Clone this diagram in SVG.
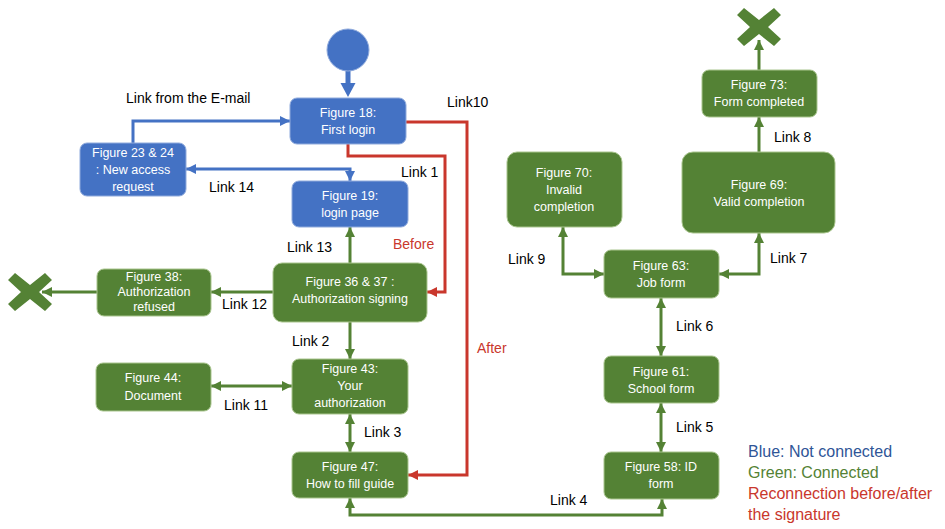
<svg xmlns="http://www.w3.org/2000/svg" width="945" height="529" viewBox="0 0 945 529">
<defs>
<style>
.nb{fill:#4472C4;stroke:#8FAADC;stroke-width:1}
.ng{fill:#548235;stroke:#A9C58E;stroke-width:1}
.nt{font-family:"Liberation Sans",Arial,sans-serif;font-size:12.5px;fill:#ffffff;text-anchor:middle}
.lb{font-family:"Liberation Sans",Arial,sans-serif;font-size:14px;fill:#000000}
.lr{font-family:"Liberation Sans",Arial,sans-serif;font-size:14px;fill:#C9372C}
.lg{font-family:"Liberation Sans",Arial,sans-serif;font-size:16px}
.cb{fill:none;stroke:#4472C4;stroke-width:3}
.cg{fill:none;stroke:#548235;stroke-width:3}
.cr{fill:none;stroke:#C9372C;stroke-width:3}
</style>
<marker id="ab" markerUnits="userSpaceOnUse" markerWidth="11" markerHeight="11" refX="10" refY="5" orient="auto-start-reverse"><path d="M0,0 L10,5 L0,10 z" fill="#4472C4"/></marker>
<marker id="ag" markerUnits="userSpaceOnUse" markerWidth="11" markerHeight="11" refX="10" refY="5" orient="auto-start-reverse"><path d="M0,0 L10,5 L0,10 z" fill="#548235"/></marker>
<marker id="ar" markerUnits="userSpaceOnUse" markerWidth="11" markerHeight="11" refX="10" refY="5" orient="auto-start-reverse"><path d="M0,0 L10,5 L0,10 z" fill="#C9372C"/></marker>
</defs>
<rect width="945" height="529" fill="#ffffff"/>

<g id="connectors">
<path d="M348,71 V84" stroke="#4472C4" stroke-width="5" fill="none"/>
<polygon points="340.5,83 355.5,83 348,97" fill="#4472C4"/>
<path class="cb" d="M133,143 V121 H290" marker-end="url(#ab)"/>
<path class="cb" d="M186,169 H350 V181" marker-start="url(#ab)" marker-end="url(#ab)"/>
<path class="cr" d="M348,144 V156 H445 V292 H427" marker-end="url(#ar)"/>
<path class="cr" d="M406,122 H467 V475 H408" marker-end="url(#ar)"/>
<path class="cg" d="M350,263 V227" marker-end="url(#ag)"/>
<path class="cg" d="M273,292 H211" marker-end="url(#ag)"/>
<path class="cg" d="M97,292 H42" marker-end="url(#ag)"/>
<path class="cg" d="M350,322 V359" marker-end="url(#ag)"/>
<path class="cg" d="M211,386 H292" marker-start="url(#ag)" marker-end="url(#ag)"/>
<path class="cg" d="M350,414 V452" marker-start="url(#ag)" marker-end="url(#ag)"/>
<path class="cg" d="M350,498 V515 H662 V499" marker-start="url(#ag)" marker-end="url(#ag)"/>
<path class="cg" d="M661,403 V452" marker-start="url(#ag)" marker-end="url(#ag)"/>
<path class="cg" d="M661,298 V356" marker-start="url(#ag)" marker-end="url(#ag)"/>
<path class="cg" d="M719,274 H759 V233" marker-start="url(#ag)" marker-end="url(#ag)"/>
<path class="cg" d="M604,274 H563 V227" marker-start="url(#ag)" marker-end="url(#ag)"/>
<path class="cg" d="M759,152 V117" marker-end="url(#ag)"/>
<path class="cg" d="M759,70 V40" marker-end="url(#ag)"/>
</g>

<g id="start"><circle cx="348" cy="50" r="21" class="nb"/></g>

<g id="endLeft"><polygon points="8,280 15,273 30,285 45,273 52,280 39,292 52,304 45,311 30,299 15,311 8,304 21,292" fill="#548235"/></g>
<g id="endTop"><polygon points="737,15 744,8 759,20 774,8 781,15 768,27 781,39 774,46 759,34 744,46 737,39 750,27" fill="#548235"/></g>

<g id="fig18"><rect x="290" y="98" width="116" height="46" rx="7" class="nb"/><text class="nt" x="348" y="117">Figure 18:</text><text class="nt" x="348" y="134">First login</text></g>
<g id="fig23"><rect x="80" y="143" width="106" height="53" rx="7" class="nb"/><text class="nt" x="133" y="157">Figure 23 &amp; 24</text><text class="nt" x="133" y="174">: New access</text><text class="nt" x="133" y="191">request</text></g>
<g id="fig19"><rect x="292" y="181" width="116" height="46" rx="7" class="nb"/><text class="nt" x="350" y="200">Figure 19:</text><text class="nt" x="350" y="217">login page</text></g>
<g id="fig36"><rect x="273" y="263" width="154" height="59" rx="9" class="ng"/><text class="nt" x="350" y="286">Figure 36 &amp; 37 :</text><text class="nt" x="350" y="303">Authorization signing</text></g>
<g id="fig38"><rect x="97" y="269" width="114" height="47" rx="7" class="ng"/><text class="nt" x="154" y="281">Figure 38:</text><text class="nt" x="154" y="296">Authorization</text><text class="nt" x="154" y="311">refused</text></g>
<g id="fig43"><rect x="292" y="359" width="116" height="55" rx="7" class="ng"/><text class="nt" x="350" y="373">Figure 43:</text><text class="nt" x="350" y="390">Your</text><text class="nt" x="350" y="407">authorization</text></g>
<g id="fig44"><rect x="96" y="363" width="115" height="48" rx="7" class="ng"/><text class="nt" x="153" y="382">Figure 44:</text><text class="nt" x="153" y="400">Document</text></g>
<g id="fig47"><rect x="292" y="452" width="116" height="46" rx="7" class="ng"/><text class="nt" x="350" y="471">Figure 47:</text><text class="nt" x="350" y="488">How to fill guide</text></g>
<g id="fig73"><rect x="702" y="70" width="115" height="47" rx="7" class="ng"/><text class="nt" x="759" y="89">Figure 73:</text><text class="nt" x="759" y="106">Form completed</text></g>
<g id="fig69"><rect x="682" y="152" width="153" height="81" rx="11" class="ng"/><text class="nt" x="759" y="189">Figure 69:</text><text class="nt" x="759" y="206">Valid completion</text></g>
<g id="fig70"><rect x="507" y="152" width="115" height="75" rx="10" class="ng"/><text class="nt" x="564" y="177">Figure 70:</text><text class="nt" x="564" y="194">Invalid</text><text class="nt" x="564" y="211">completion</text></g>
<g id="fig63"><rect x="604" y="250" width="115" height="48" rx="7" class="ng"/><text class="nt" x="661" y="270">Figure 63:</text><text class="nt" x="661" y="287">Job form</text></g>
<g id="fig61"><rect x="604" y="356" width="115" height="47" rx="7" class="ng"/><text class="nt" x="661" y="376">Figure 61:</text><text class="nt" x="661" y="393">School form</text></g>
<g id="fig58"><rect x="604" y="452" width="115" height="47" rx="7" class="ng"/><text class="nt" x="661" y="471">Figure 58: ID</text><text class="nt" x="661" y="488">form</text></g>

<g id="labels">
<text class="lb" x="126" y="103">Link from the E-mail</text>
<text class="lb" x="447" y="107">Link10</text>
<text class="lb" x="401" y="177">Link 1</text>
<text class="lb" x="209" y="192">Link 14</text>
<text class="lb" x="287" y="252">Link 13</text>
<text class="lr" x="393" y="249">Before</text>
<text class="lb" x="222" y="309">Link 12</text>
<text class="lb" x="292" y="346">Link 2</text>
<text class="lb" x="224" y="410">Link 11</text>
<text class="lb" x="364" y="437">Link 3</text>
<text class="lr" x="477" y="353">After</text>
<text class="lb" x="550" y="505">Link 4</text>
<text class="lb" x="676" y="432">Link 5</text>
<text class="lb" x="676" y="331">Link 6</text>
<text class="lb" x="508" y="264">Link 9</text>
<text class="lb" x="770" y="263">Link 7</text>
<text class="lb" x="774" y="142">Link 8</text>
</g>

<g id="legend">
<text class="lg" x="748" y="457" fill="#2F5597">Blue: Not connected</text>
<text class="lg" x="748" y="478" fill="#548235">Green: Connected</text>
<text class="lg" x="748" y="499" fill="#C9372C">Reconnection before/after</text>
<text class="lg" x="748" y="520" fill="#C9372C">the signature</text>
</g>
</svg>
